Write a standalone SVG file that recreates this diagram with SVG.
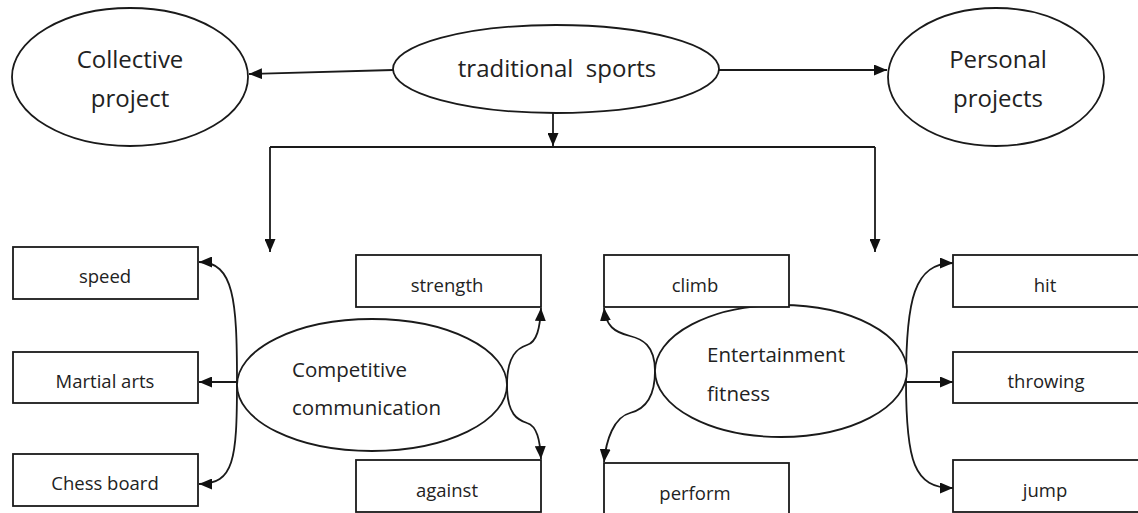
<svg xmlns="http://www.w3.org/2000/svg" width="1138" height="513" viewBox="0 0 1138 513">
<style>
  .shape { fill: #ffffff; stroke: #1a1a1a; stroke-width: 1.8; }
  .conn { fill: none; stroke: #1a1a1a; stroke-width: 1.8; }
  .arr { marker-end: url(#ah); }
  text { font-family: "Open Sans", "Noto Sans", "DejaVu Sans", sans-serif; fill: #222; }
  .big { font-size: 24px; }
  .mid { font-size: 20.5px; }
  .box { font-size: 18.5px; text-anchor: middle; }
  .c { text-anchor: middle; }
</style>
<defs>
  <marker id="ah" viewBox="0 0 13 11" refX="13" refY="5.5" markerWidth="13" markerHeight="11" markerUnits="userSpaceOnUse" orient="auto">
    <path d="M0,0 L13,5.5 L0,11 z" fill="#111"/>
  </marker>
</defs>
<rect width="1138" height="513" fill="#ffffff"/>

<g id="connectors">
  <path class="conn arr" d="M 393 70 L 249 74"/>
  <path class="conn arr" d="M 718 70 L 887 70"/>
  <path class="conn arr" d="M 553 113 L 553 146"/>
  <path class="conn" d="M 270 147 L 875 147"/>
  <path class="conn arr" d="M 270 147 L 270 252"/>
  <path class="conn arr" d="M 875 147 L 875 252"/>

  <path class="conn arr" d="M 237 382 C 237 300, 234 262, 199 262"/>
  <path class="conn arr" d="M 237 382 L 199 382"/>
  <path class="conn arr" d="M 237 382 C 237 460, 234 484, 199 484"/>

  <path class="conn arr" d="M 507 385 C 507 355, 518 348, 527 345 C 537 342, 540 328, 541 308"/>
  <path class="conn arr" d="M 507 385 C 507 415, 518 420, 527 423 C 537 426, 540 440, 541 459"/>

  <path class="conn arr" d="M 655 371 C 655 345, 642 339, 630 336 C 614 332, 606 326, 604 308"/>
  <path class="conn arr" d="M 655 371 C 655 400, 642 410, 630 413 C 614 417, 606 440, 604 462"/>

  <path class="conn arr" d="M 906 381 C 906 300, 914 263, 953 263"/>
  <path class="conn arr" d="M 906 382 L 953 382"/>
  <path class="conn arr" d="M 906 381 C 906 462, 914 488, 953 488"/>
</g>

<g id="collective-project">
  <ellipse class="shape" cx="130" cy="77" rx="118" ry="69"/>
  <text class="big c" x="130" y="68">Collective</text>
  <text class="big c" x="130" y="107">project</text>
</g>
<g id="traditional-sports">
  <ellipse class="shape" cx="556" cy="69" rx="163" ry="44"/>
  <text class="big c" x="557" y="77" xml:space="preserve">traditional  sports</text>
</g>
<g id="personal-projects">
  <ellipse class="shape" cx="996" cy="77" rx="108" ry="69"/>
  <text class="big c" x="998" y="68">Personal</text>
  <text class="big c" x="998" y="107">projects</text>
</g>

<g id="competitive-communication">
  <ellipse class="shape" cx="372" cy="385" rx="135" ry="66"/>
  <text class="mid" x="292" y="377">Competitive</text>
  <text class="mid" x="292" y="415">communication</text>
</g>
<g id="entertainment-fitness">
  <ellipse class="shape" cx="781" cy="371" rx="126" ry="66"/>
  <text class="mid" x="707" y="362">Entertainment</text>
  <text class="mid" x="707" y="401">fitness</text>
</g>

<g id="speed"><rect class="shape" x="13" y="247" width="185" height="52"/><text class="box" x="105" y="283">speed</text></g>
<g id="martial-arts"><rect class="shape" x="13" y="352" width="185" height="51"/><text class="box" x="105" y="388">Martial arts</text></g>
<g id="chess-board"><rect class="shape" x="13" y="454" width="185" height="52"/><text class="box" x="105" y="490">Chess board</text></g>

<g id="strength"><rect class="shape" x="356" y="255" width="185" height="52"/><text class="box" x="447" y="292">strength</text></g>
<g id="against"><rect class="shape" x="356" y="460" width="185" height="52"/><text class="box" x="447" y="497">against</text></g>

<g id="climb"><rect class="shape" x="604" y="255" width="185" height="52"/><text class="box" x="695" y="292">climb</text></g>
<g id="perform"><rect class="shape" x="604" y="463" width="185" height="52"/><text class="box" x="695" y="500">perform</text></g>

<g id="hit"><rect class="shape" x="953" y="255" width="186" height="52"/><text class="box" x="1045" y="292">hit</text></g>
<g id="throwing"><rect class="shape" x="953" y="352" width="186" height="51"/><text class="box" x="1046" y="388">throwing</text></g>
<g id="jump"><rect class="shape" x="953" y="460" width="186" height="52"/><text class="box" x="1045" y="497">jump</text></g>
</svg>
